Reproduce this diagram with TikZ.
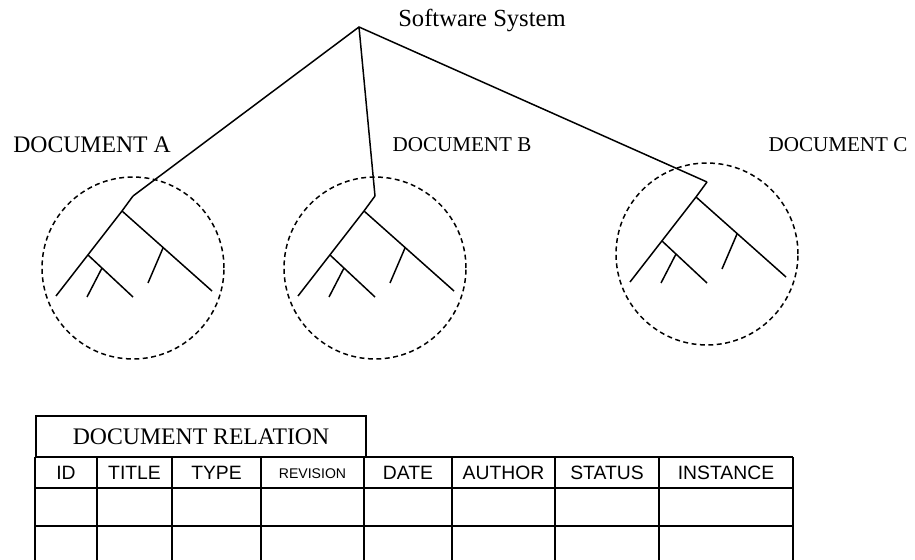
\documentclass[tikz,border=0pt]{standalone}
\usepackage{fontspec}
\setmainfont{Liberation Serif}
\newfontfamily\colfont{Liberation Sans}
\usepackage{amsmath}
\usepackage{xcolor}

\tikzset{
  branch/.style={line width=0.85pt},
  docscope/.style={circle,draw,line width=0.85pt,dash pattern=on 2.8pt off 2pt,minimum size=3.64cm,inner sep=0pt},
  docname/.style={anchor=base,inner sep=0pt,font=\fontsize{12}{14}\selectfont},
  colname/.style={anchor=base,inner sep=0pt,font=\colfont\fontsize{11}{13}\selectfont},
  gridline/.style={line width=1.1pt}
}

\begin{document}
\begin{tikzpicture}[x=0.02cm,y=-0.02cm]
  \useasboundingbox (0,0) rectangle (915,560);

  \node (sys) at (482,27) [docname,font=\fontsize{14}{16}\selectfont] {Software System};
  \coordinate (root) at (359,27);

  \node (nameA) at (92,153) [docname,font=\fontsize{13.5}{16}\selectfont] {DOCUMENT A};
  \node (nameB) at (462,152) [docname] {DOCUMENT B};
  \node (nameC) at (838,152) [docname] {DOCUMENT C};

  \foreach \d/\cx/\cy in {A/133/268,B/375/268,C/707/254} {
    \begin{scope}[shift={(\cx,\cy)}]
      \node (doc\d) at (0,0) [docscope] {};
      \coordinate (top\d) at (0,-72);
      \coordinate (fork\d) at (-11,-57);
      \draw[branch] (top\d) -- (fork\d) -- (-77,28);
      \draw[branch] (fork\d) -- (79,23);
      \draw[branch] (-45,-13) -- (0,29);
      \draw[branch] (-31,0) -- (-46,29);
      \draw[branch] (30,-20) -- (15,15);
    \end{scope}
  }

  \draw[branch] (topA) -- (root) -- (topC) (root) -- (topB);

  \node (relation) at (201,436.5) [draw,line width=1.1pt,minimum width=6.6cm,minimum height=0.82cm,inner sep=0pt,font=\fontsize{13.5}{16}\selectfont] {DOCUMENT RELATION};

  \foreach \y in {457,488,526} \draw[gridline] (35,\y) -- (793,\y);
  \foreach \x in {35,97,172,261,364,452,555,659,793} \draw[gridline] (\x,457) -- (\x,560);

  \foreach \n/\x/\t in {id/66/ID,title/134.5/TITLE,type/216.5/TYPE,date/408/DATE,author/503.5/AUTHOR,status/607/STATUS,instance/726/INSTANCE}
    \node (col\n) at (\x,479) [colname] {\t};
  \node (colrevision) at (312.5,478) [colname,font=\colfont\fontsize{8}{10}\selectfont] {REVISION};
\end{tikzpicture}
\end{document}
